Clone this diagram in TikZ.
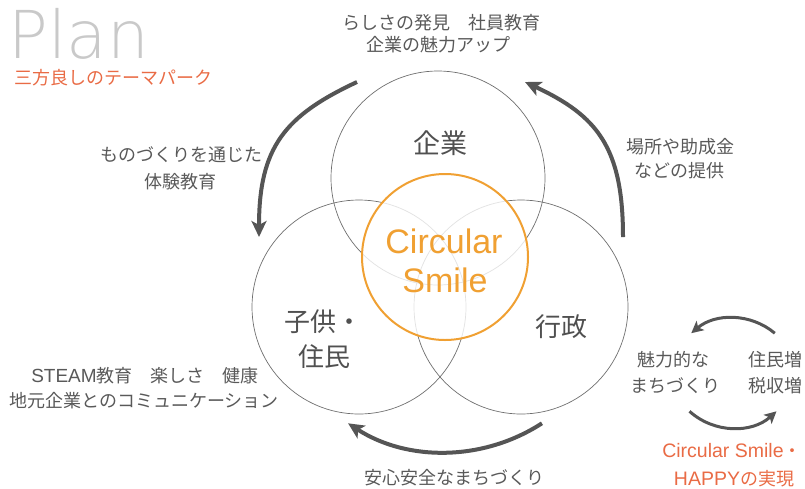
\documentclass[tikz,border=0pt]{standalone}
\usepackage{fontspec}
\setmainfont{Noto Sans CJK JP}
\newfontfamily\lat{Liberation Sans}
\newfontfamily\planfont{DejaVu Sans ExtraLight}
\usetikzlibrary{arrows.meta}
\definecolor{txtgray}{HTML}{595959}
\definecolor{biggray}{HTML}{505050}
\definecolor{arrgray}{HTML}{555555}
\definecolor{ringgray}{HTML}{6E6E6E}
\definecolor{csorange}{HTML}{F0A032}
\definecolor{redor}{HTML}{E96B45}
\definecolor{plangray}{HTML}{C9C9C9}
\begin{document}
\begin{tikzpicture}[x=1pt,y=1pt,
  ring/.style={circle, draw=ringgray, line width=0.7pt, minimum size=214pt, inner sep=0pt},
  lbl/.style={anchor=base, text=txtgray, inner sep=0pt, font=\fontsize{18}{22}\selectfont},
  biglbl/.style={anchor=base, text=biggray, inner sep=0pt, font=\fontsize{26}{30}\selectfont},
  cstext/.style={anchor=base, text=csorange, inner sep=0pt, font=\lat\fontsize{34}{34}\selectfont},
  bigarrow/.style={draw=arrgray, line width=4pt, -{Stealth[length=16pt,width=15pt,inset=4pt]}},
  smallarrow/.style={draw=arrgray, line width=3pt, -{Stealth[length=12pt,width=12pt,inset=3pt]}},
]
\useasboundingbox (0,-488) rectangle (805,0);
% three circles
\node[ring] (kigyo) at (438,-178) {};
\node[ring] (kodomo) at (359,-307) {};
\node[ring] (gyosei) at (521,-307) {};
% central circle
\node[circle, draw=csorange, line width=2pt, fill=white, fill opacity=0.8, minimum size=166pt, inner sep=0pt] (cs) at (445,-257) {};
\node[cstext] (cs1) at (444,-253) {Circular};
\node[cstext] (cs2) at (445,-292) {Smile};
% circle labels
\node[biglbl, font=\fontsize{27}{30}\selectfont] (lk) at (440,-153) {企業};
\node[biglbl] (lc1) at (323,-331) {子供・};
\node[biglbl] (lc2) at (324,-366) {住民};
\node[biglbl] (lg) at (561,-336) {行政};
% title
\node[anchor=base west, text=plangray, inner sep=0pt, text depth=0pt, font=\planfont\fontsize{66}{66}\selectfont] (plan) at (8.5,-58) {Plan};
\node[lbl, text=redor] (sanpo) at (113,-84) {三方良しのテーマパーク};
% side texts
\node[lbl] (t1) at (441,-29) {らしさの発見　社員教育};
\node[lbl] (t2) at (438,-51) {企業の魅力アップ};
\node[lbl] (l1) at (181,-161) {ものづくりを通じた};
\node[lbl] (l2) at (180,-188) {体験教育};
\node[lbl] (r1) at (680,-153) {場所や助成金};
\node[lbl] (r2) at (679,-177) {などの提供};
\node[lbl] (s1) at (145,-382) {{\lat\fontsize{19}{22}\selectfont STEAM}教育　楽しさ　健康};
\node[lbl] (s2) at (144,-407) {地元企業とのコミュニケーション};
\node[lbl] (b1) at (454,-484) {安心安全なまちづくり};
\node[lbl] (m1) at (673,-366) {魅力的な};
\node[lbl] (m2) at (675,-392) {まちづくり};
\node[lbl] (j1) at (775,-366) {住民増};
\node[lbl] (j2) at (775,-392) {税収増};
\node[lbl, text=redor] (h1) at (732,-457) {{\lat\fontsize{19.5}{22}\selectfont Circular Smile}・};
\node[lbl, text=redor] (h2) at (734,-485) {{\lat\fontsize{19.5}{22}\selectfont HAPPY}の実現};
% arrow end points and arc centres
\coordinate (ra) at (623,-237);
\coordinate (rb) at (525,-82);
\coordinate (la) at (357,-82);
\coordinate (lb) at (259,-237);
\coordinate (bc) at (445,-274);
\coordinate (uc) at (733,-383);
\coordinate (dc) at (733,-363);
% big arrows
\draw[bigarrow] (ra) .. controls (623,-147) and (597,-115.6) .. (rb);
\draw[bigarrow] (la) .. controls (285,-115.6) and (259,-147) .. (lb);
\draw[bigarrow] ([shift={(-57:178)}]bc) arc[start angle=-57, end angle=-123, radius=178];
% small arrows
\draw[smallarrow] ([shift={(50:65)}]uc) arc[start angle=50, end angle=130, radius=65];
\draw[smallarrow] ([shift={(228:65)}]dc) arc[start angle=228, end angle=312, radius=65];
\end{tikzpicture}
\end{document}
